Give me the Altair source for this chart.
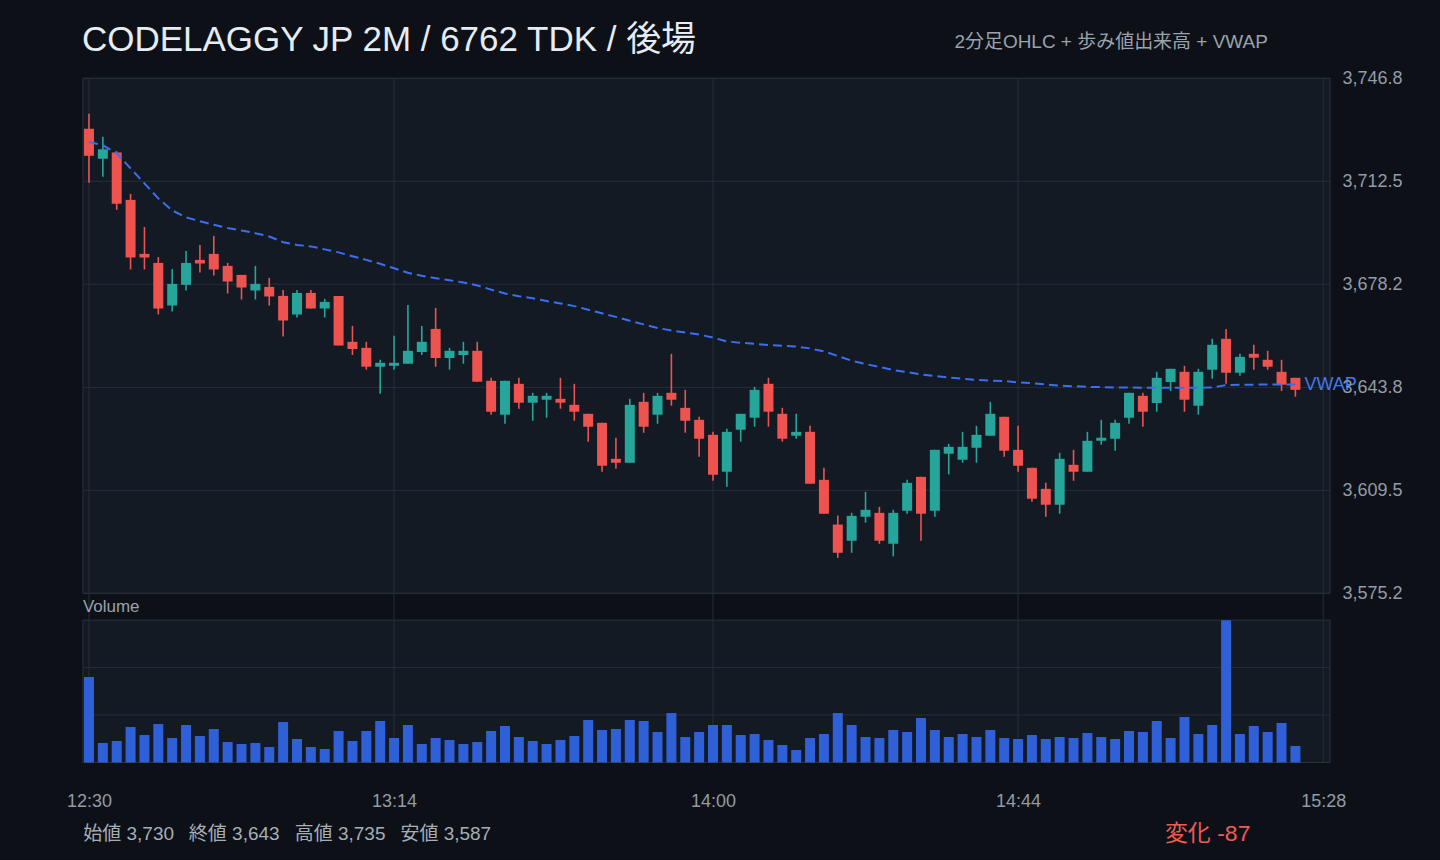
import altair as alt
import pandas as pd

# ---------------- data ----------------
# 2-minute bars, minutes after 12:30
minutes = [2 * i for i in range(88)]

opens = [3730.0, 3720.0, 3722.1, 3706.3, 3688.3, 3685.3, 3671.1, 3678.0, 3686.3, 3688.3,
         3684.3, 3681.3, 3676.1, 3677.3, 3674.3, 3668.1, 3675.3, 3670.1, 3674.3, 3659.0,
         3657.0, 3650.7, 3651.0, 3651.7, 3655.6, 3663.3, 3653.6, 3654.6, 3656.0, 3646.0,
         3634.7, 3645.0, 3638.7, 3639.7, 3640.0, 3638.0, 3635.0, 3632.0, 3620.0, 3618.7,
         3639.0, 3634.7, 3642.0, 3637.0, 3633.0, 3628.0, 3615.7, 3629.7, 3633.7, 3645.0,
         3635.0, 3627.7, 3629.0, 3613.0, 3598.1, 3592.7, 3600.7, 3602.0, 3591.7, 3602.7,
         3614.0, 3602.7, 3621.7, 3619.7, 3623.7, 3627.7, 3634.0, 3623.0, 3617.0, 3610.0,
         3604.7, 3618.0, 3615.7, 3626.0, 3626.7, 3633.7, 3641.0, 3638.6, 3645.6, 3649.0,
         3637.7, 3649.7, 3660.0, 3648.7, 3655.0, 3653.0, 3649.0, 3647.0]
highs = [3735.0, 3727.3, 3722.5, 3708.3, 3697.3, 3687.3, 3683.3, 3689.3, 3691.3, 3694.3,
         3685.3, 3681.3, 3684.3, 3680.3, 3676.3, 3676.3, 3676.3, 3673.3, 3674.3, 3664.3,
         3659.0, 3653.0, 3661.0, 3671.3, 3664.3, 3670.3, 3657.0, 3659.0, 3659.0, 3647.0,
         3646.0, 3647.0, 3642.0, 3642.0, 3647.0, 3645.0, 3635.0, 3632.0, 3627.0, 3640.0,
         3642.0, 3642.0, 3655.0, 3643.0, 3634.0, 3629.0, 3630.0, 3635.0, 3644.0, 3647.0,
         3637.0, 3635.0, 3631.0, 3617.0, 3601.1, 3602.0, 3609.0, 3604.0, 3603.0, 3613.0,
         3614.0, 3623.0, 3625.0, 3629.0, 3631.0, 3639.0, 3634.0, 3631.0, 3617.0, 3612.0,
         3622.0, 3623.0, 3629.0, 3633.0, 3633.0, 3642.0, 3642.0, 3649.0, 3650.0, 3651.0,
         3650.0, 3660.0, 3663.3, 3655.0, 3658.0, 3656.0, 3653.0, 3647.0]
lows = [3712.0, 3714.0, 3703.0, 3683.1, 3683.1, 3668.1, 3669.1, 3676.1, 3682.1, 3681.1,
        3675.1, 3673.1, 3673.1, 3671.1, 3660.8, 3667.1, 3670.1, 3667.1, 3657.8, 3654.6,
        3649.7, 3641.7, 3649.7, 3651.7, 3654.6, 3650.7, 3649.7, 3651.7, 3645.7, 3634.7,
        3631.7, 3636.7, 3632.7, 3633.7, 3636.7, 3632.7, 3625.7, 3615.7, 3616.7, 3618.7,
        3628.7, 3631.7, 3637.7, 3628.7, 3620.7, 3612.7, 3610.7, 3625.7, 3630.7, 3630.7,
        3625.7, 3626.7, 3611.7, 3601.7, 3587.0, 3588.7, 3598.7, 3591.7, 3587.5, 3601.7,
        3592.7, 3600.7, 3614.8, 3618.7, 3618.7, 3627.7, 3620.7, 3615.7, 3605.7, 3600.7,
        3601.7, 3612.7, 3615.7, 3624.7, 3622.7, 3631.7, 3630.7, 3635.7, 3642.6, 3635.7,
        3634.7, 3646.7, 3645.0, 3647.7, 3649.7, 3649.7, 3642.6, 3640.7]
closes = [3721.0, 3723.2, 3705.0, 3687.1, 3687.1, 3670.1, 3678.3, 3685.3, 3685.1, 3683.1,
          3679.1, 3677.1, 3678.3, 3674.1, 3666.1, 3675.3, 3670.1, 3672.3, 3657.8, 3656.6,
          3650.7, 3652.0, 3652.0, 3656.0, 3659.0, 3653.6, 3656.0, 3656.0, 3645.7, 3635.7,
          3646.0, 3638.7, 3641.0, 3641.0, 3638.7, 3635.7, 3630.7, 3617.7, 3618.7, 3638.0,
          3630.7, 3641.0, 3639.7, 3632.7, 3626.7, 3614.7, 3629.0, 3635.0, 3643.0, 3635.7,
          3626.7, 3629.0, 3611.7, 3601.7, 3588.7, 3601.0, 3603.0, 3592.7, 3602.0, 3612.0,
          3601.7, 3623.0, 3624.0, 3624.0, 3628.0, 3635.0, 3622.7, 3617.7, 3606.7, 3604.7,
          3620.0, 3615.7, 3626.0, 3627.0, 3632.0, 3642.0, 3635.7, 3647.0, 3650.0, 3639.7,
          3649.0, 3658.0, 3648.7, 3654.0, 3653.7, 3650.7, 3644.7, 3643.0]
vwap = [3725.6, 3724.5, 3721.8, 3716.8, 3711.8, 3706.8, 3702.8, 3700.5, 3699.2, 3698.0,
        3696.9, 3696.1, 3695.2, 3694.1, 3692.2, 3691.3, 3690.8, 3689.8, 3688.8, 3687.5,
        3686.3, 3685.0, 3683.5, 3682.0, 3681.0, 3680.2, 3679.5, 3678.8, 3677.8, 3676.4,
        3675.1, 3674.2, 3673.5, 3672.6, 3671.8, 3670.9, 3669.7, 3668.5, 3667.3, 3666.0,
        3664.8, 3663.6, 3662.8, 3662.1, 3661.4, 3660.4, 3659.1, 3658.7, 3658.3, 3657.9,
        3657.7, 3657.4, 3656.8, 3655.8, 3654.3, 3652.7, 3651.6, 3650.6, 3649.6, 3648.9,
        3648.1, 3647.6, 3647.1, 3646.7, 3646.3, 3646.1, 3645.9, 3645.5, 3645.2, 3644.8,
        3644.4, 3644.2, 3644.0, 3643.9, 3643.8, 3643.8, 3643.7, 3643.7, 3643.7, 3643.7,
        3643.7, 3643.8, 3644.6, 3644.7, 3644.7, 3644.8, 3644.8, 3644.8]
volume = [17100, 3900, 4300, 7100, 5500, 7700, 4900, 7500, 5300, 6700,
          4100, 3700, 3900, 3100, 8100, 4700, 3100, 2700, 6300, 4300,
          6300, 8300, 4900, 7500, 3700, 4900, 4500, 3700, 4100, 6300,
          7300, 5100, 4300, 3700, 4500, 5300, 8500, 6500, 6700, 8500,
          8300, 6100, 9900, 5100, 6100, 7500, 7500, 5500, 5700, 4500,
          3500, 2500, 4900, 5700, 9900, 7500, 5100, 4900, 6500, 6100,
          8900, 6500, 5100, 5700, 5100, 6500, 4900, 4700, 5500, 4700,
          5100, 4900, 5900, 5100, 4700, 6300, 6100, 8300, 4900, 9100,
          5700, 7500, 28500, 5700, 7300, 6100, 7900, 3300]

x_tick_minutes = [0, 44, 90, 134, 178]
x_tick_labels = ["12:30", "13:14", "14:00", "14:44", "15:28"]
price_ticks = [3575.2, 3609.5, 3643.8, 3678.2, 3712.5, 3746.8]
price_domain = [3575.16, 3746.84]

TITLE = "CODELAGGY JP 2M / 6762 TDK / 後場"
SUBTITLE = "2分足OHLC + 歩み値出来高 + VWAP"
footer_items = ["始値 3,730", "終値 3,643", "高値 3,735", "安値 3,587"]
CHANGE = "変化 -87"

# ---------------- styling ----------------
FONT = "Liberation Sans, Noto Sans CJK JP, sans-serif"
PAGE_BG = "#0d1117"
PANEL_BG = "#131a23"
GRID = "#252e3a"
BORDER = "#2a333f"
UP = "#26a69a"
DOWN = "#ef5350"
VOL = "#2f60d8"
VWAP_C = "#3b6ff2"
AXIS_TXT = "#939ba6"
FOOT_TXT = "#a6aeb8"

W, H = 1248, 684.7
PRICE_H = 515.5
VOL_TOP, VOL_BOT = 542.3, 684.7

df = pd.DataFrame({"t": minutes, "open": opens, "high": highs, "low": lows,
                   "close": closes, "vwap": vwap, "vol": volume})
df["dir"] = ["up" if c >= o else "down" for o, c in zip(opens, closes)]

one = pd.DataFrame({"a": [0]})

label_expr = " : ".join(
    [f"datum.value == {m} ? '{l}'" for m, l in zip(x_tick_minutes, x_tick_labels)]
) + " : ''"

x_scale = alt.Scale(domain=[-0.87, 179.0], nice=False, zero=False, padding=0)
x_axis = alt.Axis(values=x_tick_minutes, labelExpr=label_expr, grid=False, domain=False,
                  ticks=False, tickSize=0, labelPadding=30, labelFontSize=18,
                  labelColor=AXIS_TXT, labelFont=FONT, labelFlush=False,
                  labelOverlap=False, title=None, zindex=2)


def X(field):
    return alt.X(field, type="quantitative", scale=x_scale, axis=x_axis)


price_scale = alt.Scale(domain=price_domain, range=[PRICE_H, 0], nice=False, zero=False,
                        padding=0)
price_axis = alt.Axis(orient="right", values=price_ticks, format=",.1f", grid=False,
                      domain=False, ticks=False, tickSize=0, labelPadding=12,
                      labelFontSize=18, labelColor=AXIS_TXT, labelFont=FONT,
                      labelFlush=False, labelOverlap=False, title=None, zindex=2)


def PY(field):
    return alt.Y(field, type="quantitative", scale=price_scale, axis=price_axis)


vmax = max(volume)
vol_scale = alt.Scale(domain=[0, vmax], range=[VOL_BOT, VOL_TOP], nice=False, zero=True,
                      padding=0)

color = alt.Color("dir:N", scale=alt.Scale(domain=["up", "down"], range=[UP, DOWN]), legend=None)

# ---------------- background & grid ----------------
page_bg = alt.Chart(one).mark_rect(fill=PAGE_BG).encode(
    x=alt.value(-82.3), x2=alt.value(1440 - 82.3), y=alt.value(-78), y2=alt.value(860 - 78))
price_bg = alt.Chart(one).mark_rect(fill=PANEL_BG, stroke=BORDER, strokeWidth=1).encode(
    x=alt.value(0), x2=alt.value(W), y=alt.value(0), y2=alt.value(PRICE_H))
vol_bg = alt.Chart(one).mark_rect(fill=PANEL_BG, stroke=BORDER, strokeWidth=1).encode(
    x=alt.value(0), x2=alt.value(W), y=alt.value(VOL_TOP), y2=alt.value(VOL_BOT))

vgrid = alt.Chart(pd.DataFrame({"v": x_tick_minutes})).mark_rule(
    color=GRID, strokeWidth=1).encode(x=X("v"), y=alt.value(0), y2=alt.value(H))

hgrid = alt.Chart(pd.DataFrame({"v": price_ticks})).mark_rule(
    color=GRID, strokeWidth=1).encode(y=PY("v"), x=alt.value(0), x2=alt.value(W))

# ---------------- price panel ----------------
wicks = alt.Chart(df).mark_rule(strokeWidth=1.6).encode(
    x=X("t"), y=PY("low"), y2="high", color=color)
bodies = alt.Chart(df).mark_bar(size=10).encode(
    x=X("t"), y=PY("open"), y2="close", color=color)
vwap_line = alt.Chart(df).mark_line(color=VWAP_C, strokeWidth=2, strokeDash=[9, 5]).encode(
    x=X("t"), y=PY("vwap"))
vwap_lbl = alt.Chart(df.tail(1)).mark_text(
    text="VWAP", align="left", baseline="middle", dx=9, dy=1, fontSize=18,
    font=FONT, color="#4676ee").encode(x=X("t"), y=PY("vwap"))

price = alt.layer(hgrid, wicks, bodies, vwap_line, vwap_lbl)

# ---------------- volume panel ----------------
vgrid_vol = alt.Chart(pd.DataFrame({"v": [vmax / 3, 2 * vmax / 3]})).mark_rule(
    color=GRID, strokeWidth=1).encode(
    y=alt.Y("v:Q", scale=vol_scale, axis=None), x=alt.value(0), x2=alt.value(W))
vol_bars = alt.Chart(df).mark_bar(size=10, color=VOL).encode(
    x=X("t"), y=alt.Y("vol:Q", scale=vol_scale, axis=None))
vol = alt.layer(vgrid_vol, vol_bars)

# ---------------- texts ----------------
def txt(text, x, y, size, col, align="left"):
    return alt.Chart(one).mark_text(
        text=text, align=align, baseline="alphabetic", fontSize=size, font=FONT,
        color=col).encode(x=alt.value(x), y=alt.value(y))


texts = [
    txt(TITLE, -1, -27.3, 35, "#e6ecf3"),
    txt(SUBTITLE, 1185.7, -30.3, 19, "#9aa2ad", align="right"),
    txt("Volume", 0, 534, 17, "#9aa2ad"),
    txt(CHANGE, 1082.7, 763, 23, "#f25a55"),
]
for i, item in enumerate(footer_items):
    texts.append(txt(item, [0.4, 106, 212, 317.7][i], 762, 19, FOOT_TXT))

chart = alt.layer(
    page_bg, price_bg, vol_bg, vgrid, price, vol, *texts
).resolve_scale(y="independent").properties(
    width=W, height=H, padding=0, background=PAGE_BG
).configure_view(stroke=None, fill=None)

chart.save("out.html", embed_options={"renderer": "svg", "actions": False})
